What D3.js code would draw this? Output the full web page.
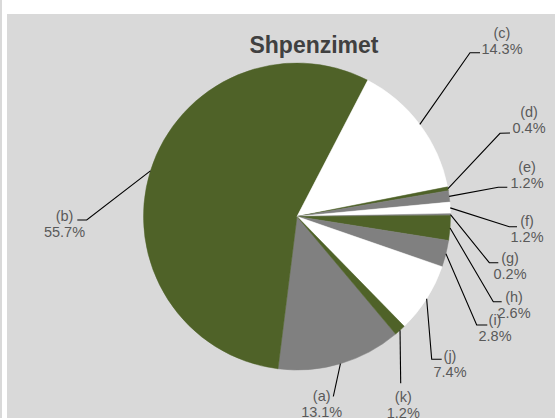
<html><head>
<script src="https://d3js.org/d3.v7.min.js"></script>
<style>
  body { margin: 0; background: #fff; }
  text { font-family: "Liberation Sans", Arial, sans-serif; }
</style>
</head>
<body>
<svg id="pie" width="555" height="418"></svg>
<script>
// data
const categories = ["(a)", "(b)", "(c)", "(d)", "(e)", "(f)", "(g)", "(h)", "(i)", "(j)", "(k)"];
const shares = [13.1, 55.7, 14.3, 0.4, 1.2, 1.2, 0.2, 2.6, 2.8, 7.4, 1.2];
const sliceColors = ["#808080", "#4F6228", "#FFFFFF", "#4F6228", "#808080", "#FFFFFF",
                     "#808080", "#4F6228", "#808080", "#FFFFFF", "#4F6228"];

// where each label sits: text centre, elbow of the leader, end of the leader
const labelLayout = [
  {x: 321.7, y: 396,   elbow: [333.3, 396.5], end: [333.3, 396.5]},
  {x: 64.5,  y: 216,   elbow: [86.7, 220],    end: [77.3, 220]},
  {x: 502,   y: 32.5,  elbow: [470, 52.7],    end: [480, 52.7]},
  {x: 529,   y: 111.7, elbow: [500, 133.3],   end: [510, 133]},
  {x: 527,   y: 166.7, elbow: [498.3, 187.3], end: [507.3, 187.3]},
  {x: 527,   y: 220.7, elbow: [509.3, 226.7], end: [517, 226.7]},
  {x: 510,   y: 258.3, elbow: [489.3, 262.7], end: [498.3, 262.7]},
  {x: 514,   y: 297.3, elbow: [493.3, 301.7], end: [501.7, 301.7]},
  {x: 495,   y: 320,   elbow: [476.7, 325],   end: [487.3, 325]},
  {x: 450,   y: 356,   elbow: [431.7, 359.3], end: [441.7, 359.3]},
  {x: 403.3, y: 396.7, elbow: [400.7, 383.3], end: [400.7, 383.3]}
];

const svg = d3.select("svg#pie");

// background panel
svg.append("rect").attr("x", 0).attr("y", 0).attr("width", 2).attr("height", 418).attr("fill", "#D9D9D9");
svg.append("rect").attr("x", 7).attr("y", 14).attr("width", 548).attr("height", 404).attr("fill", "#D9D9D9");

// title
svg.append("text")
  .attr("x", 314).attr("y", 52.5)
  .attr("text-anchor", "middle")
  .style("font-size", "23px").style("font-weight", "bold")
  .attr("fill", "#404040")
  .text("Shpenzimet");

const cx = 297, cy = 216.5, radius = 153.5;
const start = 140 * Math.PI / 180;

const pie = d3.pie().sort(null).value(d => d)
  .startAngle(start).endAngle(start + 2 * Math.PI);
const arcs = pie(shares);

const arc = d3.arc().innerRadius(0).outerRadius(radius);

const chart = svg.append("g").attr("transform", "translate(" + cx + "," + cy + ")");

chart.selectAll("path.slice")
  .data(arcs)
  .join("path")
  .attr("class", "slice")
  .attr("d", arc)
  .attr("fill", (d, i) => sliceColors[i])
  .attr("stroke", (d, i) => sliceColors[i])
  .attr("stroke-width", 0.5);

// leader lines + labels
arcs.forEach((d, i) => {
  let mid = (d.startAngle + d.endAngle) / 2;
  let sx = cx + radius * Math.sin(mid);
  let sy = cy - radius * Math.cos(mid);
  let L = labelLayout[i];

  svg.append("polyline")
    .attr("points", [[sx, sy], L.elbow, L.end].map(p => p.join(",")).join(" "))
    .attr("fill", "none")
    .attr("stroke", "#000")
    .attr("stroke-width", 1.1);

  let t = svg.append("text")
    .attr("text-anchor", "middle")
    .style("font-size", "14.5px")
    .attr("fill", "#595959");
  t.append("tspan").attr("x", L.x).attr("y", L.y + 5).text(categories[i]);
  t.append("tspan").attr("x", L.x).attr("y", L.y + 21).text(shares[i].toFixed(1) + "%");
});
</script>
</body>
</html>
